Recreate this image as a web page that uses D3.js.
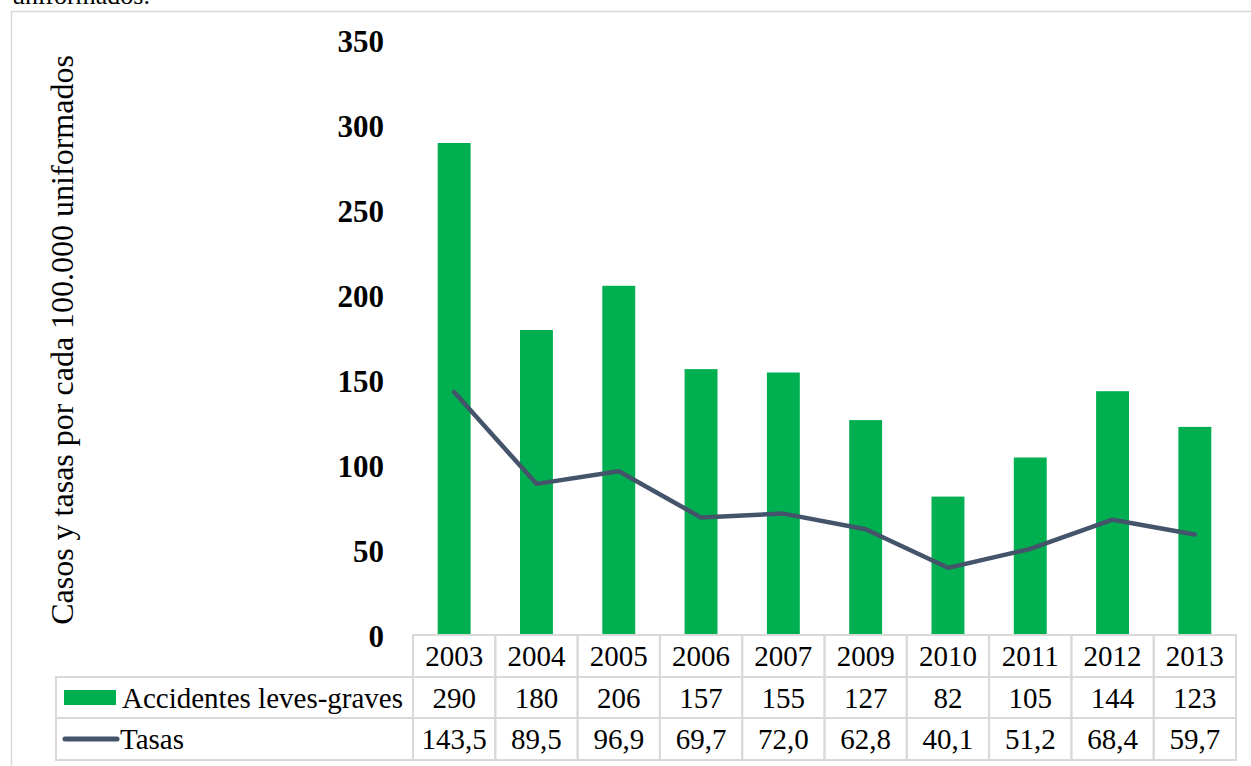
<!DOCTYPE html>
<html>
<head>
<meta charset="utf-8">
<script src="https://cdn.jsdelivr.net/npm/d3@7"></script>
<style>
  body { margin: 0; background: #fff; }
</style>
</head>
<body>
<svg id="chart" width="1251" height="766"></svg>
<script>
// data
var years = ["2003", "2004", "2005", "2006", "2007", "2009", "2010", "2011", "2012", "2013"];
var accidentes = [290, 180, 206, 157, 155, 127, 82, 105, 144, 123];
var tasas = [143.5, 89.5, 96.9, 69.7, 72.0, 62.8, 40.1, 51.2, 68.4, 59.7];
var y_ticks = [0, 50, 100, 150, 200, 250, 300, 350];
var series_names = ["Accidentes leves-graves", "Tasas"];

var green = "#00B050";
var slate = "#44546A";
var grid_grey = "#D9D9D9";
var serif = "'Liberation Serif', 'Times New Roman', serif";

var svg = d3.select("#chart");

// caption cut off at the top of the picture
svg.append("text")
    .attr("x", 12)
    .attr("y", 4)
    .style("font-family", serif)
    .attr("font-size", 26)
    .text("uniformados.");

// chart frame
svg.append("rect")
    .attr("x", 11.5).attr("y", 11.5)
    .attr("width", 1260).attr("height", 800)
    .attr("fill", "none")
    .attr("stroke", grid_grey)
    .attr("stroke-width", 1.5);

var x = d3.scaleBand()
    .domain(years)
    .range([413, 1236]);

var y = d3.scaleLinear()
    .domain([0, 350])
    .range([636, 41]);

// y axis labels (no axis line)
var y_axis = d3.axisLeft(y).tickValues(y_ticks).tickSize(0).tickPadding(0);
var gy = svg.append("g")
    .attr("transform", "translate(384,0)")
    .call(y_axis);
gy.select(".domain").remove();
gy.selectAll("text")
    .style("font-family", serif)
    .attr("font-size", 31)
    .attr("font-weight", "bold")
    .attr("fill", "#000")
    .attr("dy", "0.35em");

svg.append("text")
    .attr("transform", "translate(73," + 340 + ") rotate(-90)")
    .attr("text-anchor", "middle")
    .style("font-family", serif)
    .attr("font-size", 32)
    .text("Casos y tasas por cada 100.000 uniformados");

// bars
var bar_w = x.bandwidth() * 0.4;
svg.append("g")
    .selectAll("rect")
    .data(accidentes)
    .join("rect")
    .attr("x", function(d, i) { return x(years[i]) + x.bandwidth() / 2 - bar_w / 2; })
    .attr("y", function(d) { return y(d); })
    .attr("width", bar_w)
    .attr("height", function(d) { return y(0) - y(d); })
    .attr("fill", green);

// line
var line = d3.line()
    .x(function(d, i) { return x(years[i]) + x.bandwidth() / 2; })
    .y(function(d) { return y(d); });
svg.append("path")
    .datum(tasas)
    .attr("fill", "none")
    .attr("stroke", slate)
    .attr("stroke-width", 4.5)
    .attr("stroke-linejoin", "round")
    .attr("stroke-linecap", "round")
    .attr("d", line);

// data table
var row_top = [635, 677, 718];
var row_h = [42, 41, 42];
var legend_left = 56;
var tbl = svg.append("g");

// header row cells
tbl.selectAll("rect.hdr")
    .data(years)
    .join("rect")
    .attr("class", "hdr")
    .attr("x", function(d) { return x(d); })
    .attr("y", row_top[0])
    .attr("width", x.bandwidth())
    .attr("height", row_h[0])
    .attr("fill", "none")
    .attr("stroke", grid_grey)
    .attr("stroke-width", 2);

tbl.selectAll("text.hdr")
    .data(years)
    .join("text")
    .attr("class", "hdr")
    .attr("x", function(d) { return x(d) + x.bandwidth() / 2; })
    .attr("y", row_top[0] + row_h[0] / 2)
    .attr("dy", "0.35em")
    .attr("text-anchor", "middle")
    .style("font-family", serif)
    .attr("font-size", 29)
    .text(function(d) { return d; });

var fmt_tasa = function(v) { return d3.format(".1f")(v).replace(".", ","); };
var rows = [
    accidentes.map(function(v) { return String(v); }),
    tasas.map(fmt_tasa)
];

rows.forEach(function(vals, r) {
    var ty = row_top[r + 1];
    var h = row_h[r + 1];
    tbl.append("rect")
        .attr("x", legend_left)
        .attr("y", ty)
        .attr("width", x.range()[0] - legend_left)
        .attr("height", h)
        .attr("fill", "none")
        .attr("stroke", grid_grey)
        .attr("stroke-width", 2);
    tbl.selectAll("rect.r" + r)
        .data(years)
        .join("rect")
        .attr("class", "r" + r)
        .attr("x", function(d) { return x(d); })
        .attr("y", ty)
        .attr("width", x.bandwidth())
        .attr("height", h)
        .attr("fill", "none")
        .attr("stroke", grid_grey)
        .attr("stroke-width", 2);
    tbl.selectAll("text.r" + r)
        .data(vals)
        .join("text")
        .attr("class", "r" + r)
        .attr("x", function(d, i) { return x(years[i]) + x.bandwidth() / 2; })
        .attr("y", ty + h / 2)
        .attr("dy", "0.35em")
        .attr("text-anchor", "middle")
        .style("font-family", serif)
        .attr("font-size", 29)
        .text(function(d) { return d; });
    tbl.append("text")
        .attr("x", r == 0 ? 122 : 120)
        .attr("y", ty + h / 2)
        .attr("dy", "0.35em")
        .style("font-family", serif)
        .attr("font-size", 29)
        .text(series_names[r]);
});

// legend keys
tbl.append("rect")
    .attr("x", 64).attr("y", 690)
    .attr("width", 52).attr("height", 15)
    .attr("fill", green);
tbl.append("line")
    .attr("x1", 65).attr("x2", 117)
    .attr("y1", 739).attr("y2", 739)
    .attr("stroke", slate)
    .attr("stroke-width", 5)
    .attr("stroke-linecap", "round");
</script>
</body>
</html>
